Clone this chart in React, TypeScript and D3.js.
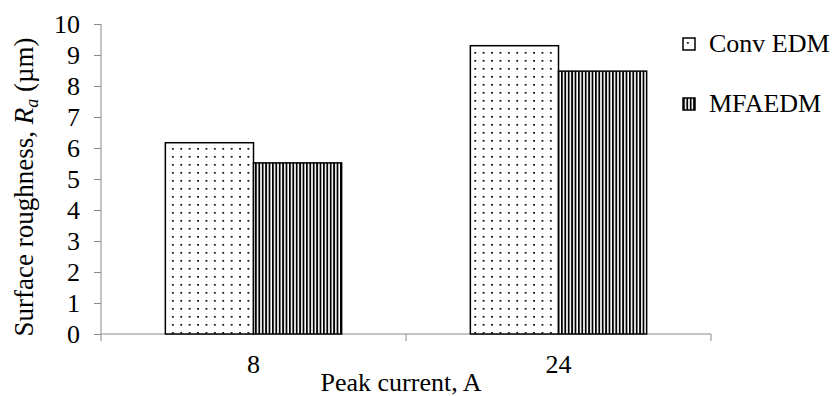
import React, { useRef, useEffect } from "react";
import * as d3 from "d3";

const categories = ["8", "24"];
const seriesNames = ["Conv EDM", "MFAEDM"];
const convEdm = [6.17, 9.3];
const mfaedm = [5.52, 8.48];
const yTicks = [0, 1, 2, 3, 4, 5, 6, 7, 8, 9, 10];

const FONT = "'Liberation Serif', 'Times New Roman', serif";

const App = () => {
  const svgRef = useRef<SVGSVGElement>(null);

  useEffect(() => {
    const svg = d3.select(svgRef.current);
    svg.selectAll("*").remove();

    const left = 101;
    const right = 711;
    const top = 24;
    const bottom = 334;
    const axisColor = "#898989";
    const fs = 26;

    const y = d3.scaleLinear().domain([0, 10]).range([bottom, top]);
    const x = d3.scaleBand().domain(categories).range([left, right]).padding(0);
    const xs = d3
      .scaleBand()
      .domain(seriesNames)
      .range([0, x.bandwidth()])
      .paddingInner(0)
      .paddingOuter(0.73);

    // patterns
    const defs = svg.append("defs");
    const dots = defs
      .append("pattern")
      .attr("id", "dots")
      .attr("patternUnits", "userSpaceOnUse")
      .attr("width", 8.4)
      .attr("height", 8)
      .attr("x", 2)
      .attr("y", 2);
    dots.append("rect").attr("width", 8.4).attr("height", 8).attr("fill", "#fff");
    dots.append("rect").attr("x", 2).attr("y", 2).attr("width", 1.7).attr("height", 1.7).attr("fill", "#000");

    const vlines = defs
      .append("pattern")
      .attr("id", "vlines")
      .attr("patternUnits", "userSpaceOnUse")
      .attr("width", 3.4)
      .attr("height", 10);
    vlines.append("rect").attr("width", 3.4).attr("height", 10).attr("fill", "#fff");
    vlines.append("rect").attr("width", 1.8).attr("height", 10).attr("fill", "#000");

    const fills = ["url(#dots)", "url(#vlines)"];
    const series = [convEdm, mfaedm];

    // axes
    svg
      .append("line")
      .attr("x1", left)
      .attr("x2", left)
      .attr("y1", top)
      .attr("y2", bottom)
      .attr("stroke", axisColor);
    svg
      .append("line")
      .attr("x1", left)
      .attr("x2", right)
      .attr("y1", bottom)
      .attr("y2", bottom)
      .attr("stroke", axisColor);

    svg
      .append("g")
      .selectAll("line")
      .data(yTicks)
      .join("line")
      .attr("x1", left - 7)
      .attr("x2", left)
      .attr("y1", (d) => Math.round(y(d)) + 0.5)
      .attr("y2", (d) => Math.round(y(d)) + 0.5)
      .attr("stroke", axisColor);

    const xTickPos = [left, ...categories.map((c) => (x(c) as number) + x.bandwidth())];
    svg
      .append("g")
      .selectAll("line")
      .data(xTickPos)
      .join("line")
      .attr("x1", (d) => d)
      .attr("x2", (d) => d)
      .attr("y1", bottom)
      .attr("y2", bottom + 7)
      .attr("stroke", axisColor);

    // bars
    series.forEach((vals, si) => {
      svg
        .append("g")
        .selectAll("rect")
        .data(vals)
        .join("rect")
        .attr("x", (_, i) => (x(categories[i]) as number) + (xs(seriesNames[si]) as number))
        .attr("y", (d) => y(d))
        .attr("width", xs.bandwidth())
        .attr("height", (d) => bottom - y(d))
        .attr("fill", fills[si])
        .attr("stroke", "#000")
        .attr("stroke-width", 1.5);
    });

    // y tick labels
    svg
      .append("g")
      .selectAll("text")
      .data(yTicks)
      .join("text")
      .attr("x", 80)
      .attr("y", (d) => y(d))
      .attr("dy", "0.33em")
      .attr("text-anchor", "end")
      .attr("font-family", FONT)
      .attr("font-size", fs)
      .text((d) => d);

    // x tick labels
    svg
      .append("g")
      .selectAll("text")
      .data(categories)
      .join("text")
      .attr("x", (d) => (x(d) as number) + x.bandwidth() / 2)
      .attr("y", 373)
      .attr("text-anchor", "middle")
      .attr("font-family", FONT)
      .attr("font-size", fs)
      .text((d) => d);

    // x title
    svg
      .append("text")
      .attr("x", 401)
      .attr("y", 391)
      .attr("text-anchor", "middle")
      .attr("font-family", FONT)
      .attr("font-size", fs)
      .text("Peak current, A");

    // y title
    const yt = svg
      .append("text")
      .attr("transform", "translate(33,187) rotate(-90)")
      .attr("text-anchor", "middle")
      .attr("font-family", FONT)
      .attr("font-size", 27);
    yt.append("tspan").text("Surface roughness, ");
    yt.append("tspan").attr("font-style", "italic").text("R");
    yt.append("tspan").attr("font-style", "italic").attr("font-size", 18).attr("dy", 5).text("a");
    yt.append("tspan").attr("dy", -5).text(" (µm)");

    // legend
    const legend = svg
      .append("g")
      .selectAll("g")
      .data(seriesNames)
      .join("g")
      .attr("transform", (_, i) => `translate(683,${38 + i * 60})`);
    legend
      .append("rect")
      .attr("width", 12)
      .attr("height", 12)
      .attr("fill", (_, i) => fills[i])
      .attr("stroke", "#000")
      .attr("stroke-width", 1.5);
    legend
      .append("text")
      .attr("x", 26)
      .attr("y", 14)
      .attr("font-family", FONT)
      .attr("font-size", fs)
      .text((d) => d);
  }, []);

  return <svg ref={svgRef} width={834} height={396} style={{ display: "block", position: "absolute", left: 0, top: 0 }}></svg>;
};

export default App;
